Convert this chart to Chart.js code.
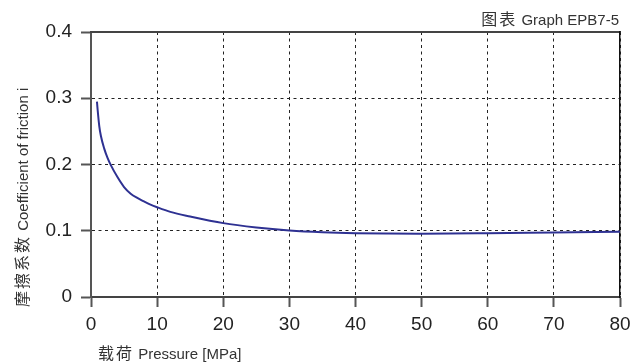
<!DOCTYPE html>
<html>
<head>
<meta charset="utf-8">
<script src="https://cdn.jsdelivr.net/npm/chart.js@4"></script>
<style>
  body { margin: 0; background: #fff; }
</style>
</head>
<body>
<canvas id="frictionChart" width="637" height="364"></canvas>
<script>
// values
const pressure = [0.9, 1, 1.25, 1.5, 2, 2.5, 3, 4, 5, 6, 7, 8, 9, 10, 12, 15, 20, 25, 30, 35, 40, 45, 50, 60, 70, 80];
const friction = [0.295, 0.283, 0.258, 0.243, 0.224, 0.210, 0.199, 0.181, 0.166, 0.156, 0.1495, 0.1443, 0.1395, 0.1355, 0.1285, 0.1215, 0.1115, 0.105, 0.1005, 0.0978, 0.0963, 0.0957, 0.0955, 0.0962, 0.0974, 0.0985];
const xTicks = [0, 80, 10];     // min, max, step
const yTicks = [0, 0.4, 0.1];

const chartTitle = ["图表", "Graph EPB7-5"];
const xTitle = ["载荷", "Pressure [MPa]"];
const yTitle = ["摩擦系数", "Coefficient of friction i"];

const FONT = "'Liberation Sans', Arial, 'Noto Sans CJK SC', sans-serif";
Chart.defaults.font.family = FONT;
Chart.defaults.color = "#222";

// "CJK + latin" text helpers
function mixedWidth(ctx, parts) {
  ctx.font = "16px " + FONT;
  ctx.letterSpacing = "2px";
  const w1 = ctx.measureText(parts[0]).width;
  ctx.letterSpacing = "0px";
  ctx.font = "15px " + FONT;
  const w2 = ctx.measureText(" " + parts[1]).width;
  return w1 + w2;
}
function drawMixed(ctx, parts, x, y) {
  ctx.textAlign = "left";
  ctx.textBaseline = "alphabetic";
  ctx.fillStyle = "#333";
  ctx.font = "16px " + FONT;
  ctx.letterSpacing = "2px";
  ctx.fillText(parts[0], x, y);
  const w1 = ctx.measureText(parts[0]).width;
  ctx.letterSpacing = "0px";
  ctx.font = "15px " + FONT;
  ctx.fillText(" " + parts[1], x + w1, y);
}

const titlesPlugin = {
  id: "titles",
  afterDraw(chart) {
    const ctx = chart.ctx;
    ctx.save();
    const w = mixedWidth(ctx, chartTitle);
    drawMixed(ctx, chartTitle, 619 - w, 25);
    drawMixed(ctx, xTitle, 98, 359);
    ctx.translate(28, 307);
    ctx.rotate(-Math.PI / 2);
    drawMixed(ctx, yTitle, 0, 0);
    ctx.restore();
  }
};

const dotted = [3, 3.5];

new Chart(document.getElementById("frictionChart"), {
  type: "line",
  data: {
    datasets: [{
      data: pressure.map((p, i) => ({ x: p, y: friction[i] })),
      borderColor: "#2e3192",
      borderWidth: 2,
      pointRadius: 0,
      fill: false,
      cubicInterpolationMode: "monotone"
    }]
  },
  options: {
    responsive: false,
    animation: false,
    layout: { padding: 0 },
    plugins: { legend: { display: false }, tooltip: { enabled: false } },
    scales: {
      x: {
        type: "linear",
        position: "bottom",
        min: xTicks[0], max: xTicks[1],
        ticks: { stepSize: xTicks[2], padding: 6, font: { size: 19 }, maxRotation: 0 },
        grid: { color: "#222", lineWidth: 1, tickLength: 10, tickWidth: 2, tickColor: "#555" },
        border: { color: "#444", width: 2, dash: dotted },
        afterFit: s => { s.height = 67; }
      },
      y: {
        type: "linear",
        position: "left",
        min: yTicks[0], max: yTicks[1],
        ticks: { stepSize: yTicks[2], padding: 9, font: { size: 19 } },
        grid: { color: "#222", lineWidth: 1, tickLength: 10, tickWidth: 2, tickColor: "#555" },
        border: { color: "#555", width: 2, dash: dotted },
        afterFit: s => { s.width = 91; }
      },
      xTop: {
        type: "linear",
        position: "top",
        ticks: { display: false },
        grid: { display: false },
        border: { color: "#444", width: 2 },
        afterFit: s => { s.height = 32; }
      },
      yRight: {
        type: "linear",
        position: "right",
        ticks: { display: false },
        grid: { display: false },
        border: { color: "#111", width: 1.5 },
        afterFit: s => { s.width = 17; }
      }
    }
  },
  plugins: [titlesPlugin]
});
</script>
</body>
</html>
